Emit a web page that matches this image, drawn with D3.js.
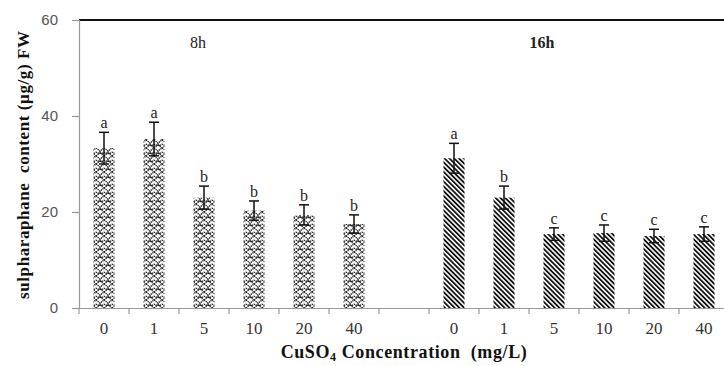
<!DOCTYPE html>
<html>
<head>
<meta charset="utf-8">
<script src="https://cdn.jsdelivr.net/npm/d3@7"></script>
<style>
  body { margin: 0; background: #fff; }
  svg { display: block; }
</style>
</head>
<body>
<svg id="chart" width="724" height="366"></svg>
<script>
// data
const concentrations = ["0", "1", "5", "10", "20", "40"];
const groups = ["8h", "16h"];
const mean8h = [33.3, 35.2, 23.0, 20.3, 19.4, 17.5];
const err8h = [3.3, 3.5, 2.4, 2.0, 2.1, 1.9];
const sig8h = ["a", "a", "b", "b", "b", "b"];
const mean16h = [31.2, 23.0, 15.4, 15.6, 15.0, 15.4];
const err16h = [3.1, 2.4, 1.3, 1.7, 1.4, 1.5];
const sig16h = ["a", "b", "c", "c", "c", "c"];
const yTicks = [0, 20, 40, 60];

const serif = "'Liberation Serif', 'Times New Roman', serif";
const svg = d3.select("#chart");
const margin = {top: 20, left: 79, bottom: 58};
const width = 650, height = 366 - margin.top - margin.bottom;

// 6 concentrations, an empty slot, 6 concentrations
const keys = concentrations.map(c => "8h-" + c)
  .concat(["gap"])
  .concat(concentrations.map(c => "16h-" + c));

const x = d3.scaleBand().domain(keys).range([0, width]);
const y = d3.scaleLinear().domain([0, 60]).range([height, 0]);

const rows = [];
concentrations.forEach((c, i) => rows.push({key: "8h-" + c, g: "8h", v: mean8h[i], e: err8h[i], s: sig8h[i]}));
concentrations.forEach((c, i) => rows.push({key: "16h-" + c, g: "16h", v: mean16h[i], e: err16h[i], s: sig16h[i]}));

const defs = svg.append("defs");
// herringbone-ish dotted fill for 8h
const p1 = defs.append("pattern").attr("id", "weave")
  .attr("patternUnits", "userSpaceOnUse").attr("width", 8).attr("height", 8);
p1.append("rect").attr("width", 8).attr("height", 8).attr("fill", "#fff");
p1.append("path").attr("d", "M0,0 L4,3 L8,0 M0,4 L2,5.5 M6,5.5 L8,4 M2,5.5 L4,4 L6,5.5 M0,8 L4,5 M4,5 L8,8")
  .attr("fill", "none").attr("stroke", "#222").attr("stroke-width", 1.3)
  .attr("stroke-dasharray", "1.4,0.6");
// diagonal stripes for 16h
const p2 = defs.append("pattern").attr("id", "stripe")
  .attr("patternUnits", "userSpaceOnUse").attr("width", 3.4).attr("height", 8)
  .attr("patternTransform", "rotate(-45)");
p2.append("rect").attr("width", 3.4).attr("height", 8).attr("fill", "#fff");
p2.append("rect").attr("width", 1.8).attr("height", 8).attr("fill", "#111");

const g = svg.append("g").attr("transform", `translate(${margin.left},${margin.top})`);

// top frame line
g.append("line").attr("x1", 0).attr("x2", 724).attr("y1", 0).attr("y2", 0)
  .attr("stroke", "#111").attr("stroke-width", 2);

// y axis
const yAxis = g.append("g").call(d3.axisLeft(y).tickValues(yTicks).tickSize(7).tickPadding(14));
yAxis.select(".domain").attr("stroke", "#999").attr("stroke-width", 1.2);
yAxis.selectAll(".tick line").attr("stroke", "#999").attr("stroke-width", 1.2);
yAxis.selectAll("text").attr("font-family", "'Liberation Sans', Arial, sans-serif")
  .attr("font-size", 15).attr("fill", "#555");

// x axis: labels centred, ticks at category boundaries
const xAxis = g.append("g").attr("transform", `translate(0,${height})`)
  .call(d3.axisBottom(x).tickSize(0).tickPadding(14)
    .tickFormat(k => k === "gap" ? "" : k.split("-")[1]));
xAxis.select(".domain").attr("stroke", "#999").attr("stroke-width", 1.2);
xAxis.selectAll("text").attr("font-family", serif)
  .attr("font-size", 17).attr("fill", "#333");
xAxis.selectAll(".bound").data(keys).enter().append("line")
  .attr("class", "bound")
  .attr("x1", k => x(k)).attr("x2", k => x(k))
  .attr("y1", 0).attr("y2", 6)
  .attr("stroke", "#999").attr("stroke-width", 1.2);

// bars
const bw = x.bandwidth() * 0.42;
const bars = g.selectAll(".bar").data(rows).enter().append("g").attr("class", "bar")
  .attr("transform", d => `translate(${x(d.key) + x.bandwidth() / 2},0)`);
bars.append("rect")
  .attr("x", -bw / 2).attr("width", bw)
  .attr("y", d => y(d.v)).attr("height", d => y(0) - y(d.v))
  .attr("fill", d => d.g === "8h" ? "url(#weave)" : "url(#stripe)");

// error bars
bars.append("line").attr("y1", d => y(d.v + d.e)).attr("y2", d => y(d.v - d.e))
  .attr("stroke", "#111").attr("stroke-width", 1.5);
bars.append("line").attr("x1", -5).attr("x2", 5)
  .attr("y1", d => y(d.v + d.e)).attr("y2", d => y(d.v + d.e))
  .attr("stroke", "#111").attr("stroke-width", 1.5);
bars.append("line").attr("x1", -5).attr("x2", 5)
  .attr("y1", d => y(d.v - d.e)).attr("y2", d => y(d.v - d.e))
  .attr("stroke", "#111").attr("stroke-width", 1.5);

// significance letters
bars.append("text").attr("text-anchor", "middle")
  .attr("y", d => y(d.v + d.e) - 4)
  .attr("font-family", serif)
  .attr("font-size", 16).attr("fill", "#222")
  .text(d => d.s);

// group labels
g.selectAll(".grp").data(groups).enter().append("text")
  .attr("x", (d, i) => i === 0 ? 119 : 463)
  .attr("y", 28)
  .attr("text-anchor", "middle")
  .attr("font-family", serif)
  .attr("font-size", 16)
  .attr("font-weight", (d, i) => i === 0 ? "normal" : "bold")
  .attr("fill", "#222")
  .text(d => d);

// axis titles
svg.append("text")
  .attr("transform", "translate(29,165) rotate(-90)")
  .attr("text-anchor", "middle")
  .attr("font-family", serif)
  .attr("font-size", 17).attr("font-weight", "bold").attr("fill", "#111")
  .attr("textLength", 268).attr("lengthAdjust", "spacing")
  .text("sulpharaphane\u00a0 content (µg/g) FW");

const xt = svg.append("text")
  .attr("x", 404).attr("y", 358)
  .attr("text-anchor", "middle")
  .attr("font-family", serif)
  .attr("font-size", 18).attr("font-weight", "bold").attr("fill", "#111")
  .attr("letter-spacing", 0.6);
xt.append("tspan").text("CuSO");
xt.append("tspan").attr("font-size", 12).attr("dy", 3).text("4");
xt.append("tspan").attr("dy", -3).text(" Concentration\u00a0 (mg/L)");
</script>
</body>
</html>
